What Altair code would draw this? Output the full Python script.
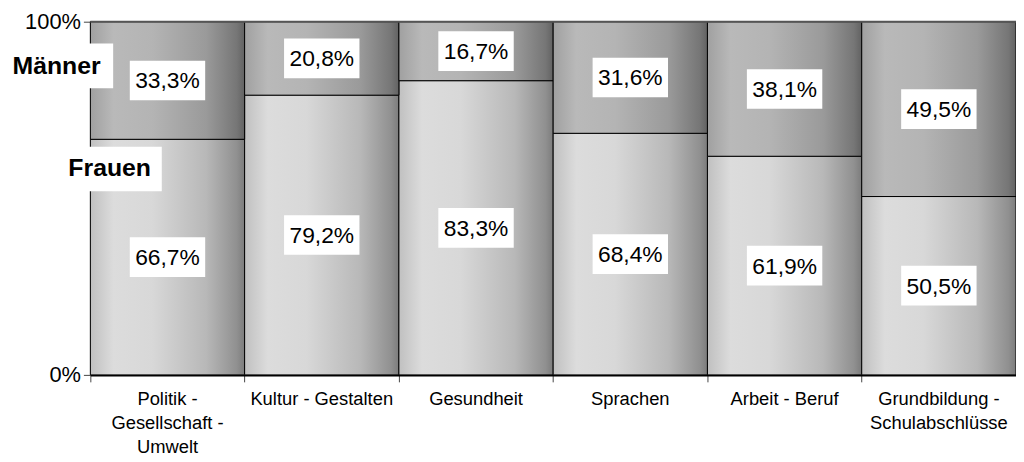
import altair as alt
import pandas as pd

categories = ["Politik -|Gesellschaft -|Umwelt", "Kultur - Gestalten", "Gesundheit",
              "Sprachen", "Arbeit - Beruf", "Grundbildung -|Schulabschlüsse"]
frauen = [66.7, 79.2, 83.3, 68.4, 61.9, 50.5]
maenner = [33.3, 20.8, 16.7, 31.6, 38.1, 49.5]
y_ticks = [0, 100]

rows = []
for c, f, m in zip(categories, frauen, maenner):
    rows.append(dict(cat=c, series="Frauen", start=0.0, end=f, mid=f / 2,
                     label=f"{f:.1f}%".replace(".", ",")))
    rows.append(dict(cat=c, series="Männer", start=f, end=f + m, mid=f + m / 2,
                     label=f"{m:.1f}%".replace(".", ",")))
df = pd.DataFrame(rows)

FONT = "Liberation Sans"
W, H = 933, 356

x_enc = alt.X("cat:N", sort=categories, title=None,
              scale=alt.Scale(paddingInner=0, paddingOuter=0),
              axis=alt.Axis(labelExpr="split(datum.label, '|')", labelAngle=0,
                            labelFont=FONT, labelFontSize=18.5, labelColor="#000",
                            labelLineHeight=24, labelBaseline="top", labelPadding=8,
                            bandPosition=0, tickSize=7, tickColor="#444", tickWidth=1,
                            domainColor="#000", domainWidth=2, grid=False,
                            labelLimit=300))
y_scale = alt.Scale(domain=[0, 100], nice=False)


def grad(stops):
    return alt.LinearGradient(gradient="linear", x1=0, x2=1, y1=0, y2=0,
                              stops=[alt.GradientStop(color=c, offset=o) for o, c in stops])


frauen_grad = grad([(0, "#c0c0c0"), (0.15, "#dcdcdc"), (0.4, "#d8d8d8"),
                    (0.75, "#b8b8b8"), (0.95, "#909090"), (1, "#7c7c7c")])
maenner_grad = grad([(0, "#a0a0a0"), (0.15, "#b9b9b9"), (0.4, "#b4b4b4"),
                     (0.75, "#9a9a9a"), (0.95, "#767676"), (1, "#626262")])

base = alt.Chart(df)

bars_f = base.transform_filter("datum.series == 'Frauen'").mark_bar(
    fill=frauen_grad, stroke="#000", strokeWidth=1).encode(
    x=x_enc,
    y=alt.Y("start:Q", scale=y_scale, title=None,
            axis=alt.Axis(values=y_ticks, labelExpr="datum.value + '%'",
                          labelFont=FONT, labelFontSize=22, labelColor="#000",
                          tickSize=7, tickColor="#444", domainColor="#000",
                          domainWidth=1, grid=False, labelPadding=3)),
    y2="end:Q")

bars_m = base.transform_filter("datum.series == 'Männer'").mark_bar(
    fill=maenner_grad, stroke="#000", strokeWidth=1).encode(
    x=alt.X("cat:N", sort=categories), y=alt.Y("start:Q", scale=y_scale), y2="end:Q")

boxes = base.mark_point(shape="M-1.9,-1H1.9V1H-1.9Z", filled=True, fill="white",
                        stroke=None, opacity=1, size=1600).encode(
    x=alt.X("cat:N", sort=categories, bandPosition=0.5),
    y=alt.Y("mid:Q", scale=y_scale))

texts = base.mark_text(font=FONT, fontSize=23, color="#000", baseline="middle",
                       align="center", dy=1).encode(
    x=alt.X("cat:N", sort=categories, bandPosition=0.5),
    y=alt.Y("mid:Q", scale=y_scale), text="label:N")

# series name annotations at the left
names = pd.DataFrame({"name": ["Männer", "Frauen"],
                      "x": [-34, 19.5], "y": [45, 148],
                      "bx1": [-91, -30], "bx2": [23, 72],
                      "by1": [22, 126], "by2": [67, 171]})
name_boxes = alt.Chart(names).mark_rect(fill="white").encode(
    x=alt.X("bx1:Q", scale=None), x2="bx2:Q",
    y=alt.Y("by1:Q", scale=None), y2="by2:Q")
name_text = alt.Chart(names).mark_text(font=FONT, fontSize=25, fontWeight="bold",
                                       color="#000", align="center",
                                       baseline="middle").encode(
    x=alt.X("x:Q", scale=None), y=alt.Y("y:Q", scale=None), text="name:N")

top_line = alt.Chart(pd.DataFrame({"v": [100]})).mark_rule(
    color="#555", strokeWidth=2).encode(y=alt.Y("v:Q", scale=y_scale))

chart = alt.layer(bars_f, bars_m, top_line, boxes, texts, name_boxes, name_text).properties(
    width=W, height=H,
    autosize=alt.AutoSizeParams(type="none"),
    padding={"left": 83, "top": 12, "right": 0, "bottom": 86},
).configure_view(stroke=None).configure(background="white")

chart.save("out.html", embed_options={"renderer": "svg", "actions": False})
